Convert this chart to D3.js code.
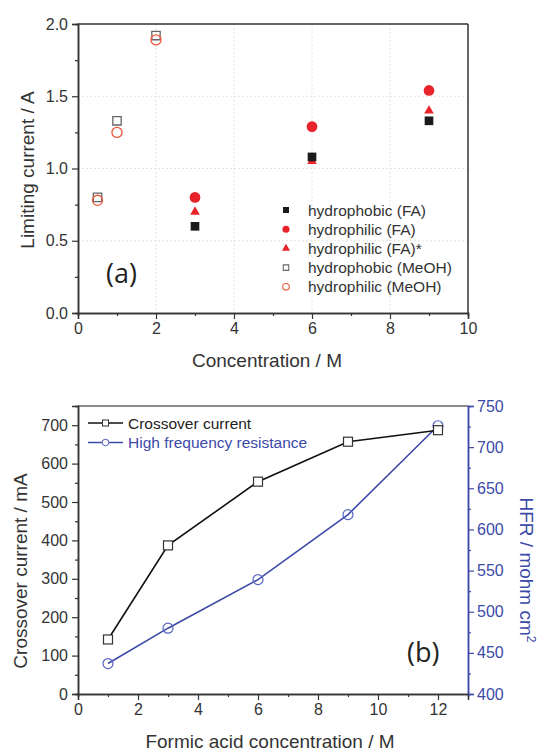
<!DOCTYPE html>
<html>
<head>
<meta charset="utf-8">
<script src="https://cdn.jsdelivr.net/npm/d3@7"></script>
<style>
  body { margin: 0; background: #fff; }
  svg { display: block; font-family: "Liberation Sans", Arial, sans-serif; }
</style>
</head>
<body>
<div id="chart"></div>
<script>
// panel (a) data
var concFA = [3, 6, 9];
var phobicFA = [0.60, 1.08, 1.33];
var philicFA = [0.80, 1.29, 1.54];
var philicFAstar = [0.70, 1.05, 1.40];
var concMeOH = [0.5, 1, 2];
var phobicMeOH = [0.80, 1.33, 1.92];
var philicMeOH = [0.78, 1.25, 1.89];
var legendA = ["hydrophobic (FA)", "hydrophilic (FA)", "hydrophilic (FA)*", "hydrophobic (MeOH)", "hydrophilic (MeOH)"];

// panel (b) data
var concB = [1, 3, 6, 9, 12];
var crossover = [142, 387, 553, 657, 687];
var hfr = [437, 480, 539, 618, 726];
var legendB = ["Crossover current", "High frequency resistance"];

var W = 537, H = 752;
var axisCol = "#333", blue = "#3c4aa8", red = "#e8232a", orange = "#ec5a3c";

var svg = d3.select("#chart").append("svg")
  .attr("width", W).attr("height", H);

function styleAxis(g, col) {
  g.select(".domain").attr("stroke", col).attr("stroke-width", 1.5);
  g.selectAll(".tick line").attr("stroke", col).attr("stroke-width", 1.2);
  g.selectAll(".tick text").attr("fill", col).style("font-size", "16px")
    .style("font-family", "'Liberation Sans', Arial, sans-serif");
}

// ---------------- panel (a) ----------------
var ax = {left: 78, right: 468, top: 24, bottom: 313};
var xA = d3.scaleLinear().domain([0, 10]).range([ax.left, ax.right]);
var yA = d3.scaleLinear().domain([0, 2]).range([ax.bottom, ax.top]);

var gA = svg.append("g");

// faint grid
gA.selectAll(".gx").data([2, 4, 6, 8]).enter().append("line")
  .attr("x1", d => xA(d)).attr("x2", d => xA(d))
  .attr("y1", ax.top).attr("y2", ax.bottom)
  .attr("stroke", "#e4e4e4").attr("stroke-dasharray", "2,2");
gA.selectAll(".gy").data([0.5, 1, 1.5]).enter().append("line")
  .attr("x1", ax.left).attr("x2", ax.right)
  .attr("y1", d => yA(d)).attr("y2", d => yA(d))
  .attr("stroke", "#e4e4e4").attr("stroke-dasharray", "2,2");

// frame top / right
gA.append("line").attr("x1", ax.left).attr("x2", ax.right).attr("y1", ax.top).attr("y2", ax.top)
  .attr("stroke", axisCol).attr("stroke-width", 1.5);
gA.append("line").attr("x1", ax.right).attr("x2", ax.right).attr("y1", ax.top).attr("y2", ax.bottom)
  .attr("stroke", axisCol).attr("stroke-width", 1.5);

// minor ticks
gA.append("g").attr("transform", "translate(0," + ax.bottom + ")")
  .call(d3.axisBottom(xA).tickValues([1, 3, 5, 7, 9]).tickSize(3).tickFormat(""))
  .call(g => styleAxis(g, axisCol));
gA.append("g").attr("transform", "translate(" + ax.left + ",0)")
  .call(d3.axisLeft(yA).tickValues([0.25, 0.75, 1.25, 1.75]).tickSize(3).tickFormat(""))
  .call(g => styleAxis(g, axisCol));
// major
gA.append("g").attr("transform", "translate(0," + ax.bottom + ")")
  .call(d3.axisBottom(xA).tickValues([0, 2, 4, 6, 8, 10]).tickSize(6).tickPadding(4).tickFormat(d3.format("d")))
  .call(g => styleAxis(g, axisCol));
gA.append("g").attr("transform", "translate(" + ax.left + ",0)")
  .call(d3.axisLeft(yA).tickValues([0, 0.5, 1, 1.5, 2]).tickSize(6).tickPadding(4).tickFormat(d3.format(".1f")))
  .call(g => styleAxis(g, axisCol));

gA.append("text").attr("x", 267).attr("y", 367).attr("text-anchor", "middle")
  .attr("fill", axisCol).style("font-size", "19px").text("Concentration / M");
gA.append("text").attr("transform", "translate(34,170) rotate(-90)").attr("text-anchor", "middle")
  .attr("fill", axisCol).style("font-size", "19px").text("Limiting current / A");
gA.append("text").attr("x", 106).attr("y", 283)
  .attr("fill", "#222").style("font-family", "Open Sans, sans-serif").style("font-size", "27px").text("(a)");

var sq = d3.symbol().type(d3.symbolSquare);
var ci = d3.symbol().type(d3.symbolCircle);
var tr = d3.symbol().type(d3.symbolTriangle);

function pts(g, xs, ys, sym, size, fill, stroke) {
  g.selectAll(null).data(xs).enter().append("path")
    .attr("transform", (d, i) => "translate(" + xA(d) + "," + yA(ys[i]) + ")")
    .attr("d", sym.size(size)())
    .attr("fill", fill).attr("stroke", stroke).attr("stroke-width", 1.3);
}
pts(gA, concMeOH, phobicMeOH, sq, 70, "none", "#666");
pts(gA, concMeOH, philicMeOH, ci, 80, "none", orange);
pts(gA, concFA, philicFAstar, tr, 40, red, "none");
pts(gA, concFA, phobicFA, sq, 75, "#1a1a1a", "none");
pts(gA, concFA, philicFA, ci, 90, red, "none");

// legend (a)
var legSyms = [
  {sym: sq, size: 36, fill: "#1a1a1a", stroke: "none"},
  {sym: ci, size: 40, fill: red, stroke: "none"},
  {sym: tr, size: 28, fill: red, stroke: "none"},
  {sym: sq, size: 30, fill: "none", stroke: "#666"},
  {sym: ci, size: 34, fill: "none", stroke: orange}
];
var lgA = gA.append("g");
legendA.forEach(function(t, i) {
  var y = 210 + i * 19.2;
  lgA.append("path").attr("transform", "translate(286," + y + ")")
    .attr("d", legSyms[i].sym.size(legSyms[i].size)())
    .attr("fill", legSyms[i].fill).attr("stroke", legSyms[i].stroke).attr("stroke-width", 1.1);
  lgA.append("text").attr("x", 308).attr("y", y + 5.5)
    .attr("fill", axisCol).style("font-size", "15.5px").text(t);
});

// ---------------- panel (b) ----------------
var bx = {left: 78, right: 468, top: 406, bottom: 694};
var xB = d3.scaleLinear().domain([0, 13]).range([bx.left, bx.right]);
var yB = d3.scaleLinear().domain([0, 750]).range([bx.bottom, bx.top]);
var yR = d3.scaleLinear().domain([400, 750]).range([bx.bottom, bx.top]);

var gB = svg.append("g");
gB.append("line").attr("x1", bx.left).attr("x2", bx.right).attr("y1", bx.top).attr("y2", bx.top)
  .attr("stroke", "#666").attr("stroke-width", 1.5);

gB.append("g").attr("transform", "translate(0," + bx.bottom + ")")
  .call(d3.axisBottom(xB).tickValues([1, 3, 5, 7, 9, 11]).tickSize(3).tickFormat(""))
  .call(g => styleAxis(g, axisCol));
gB.append("g").attr("transform", "translate(" + bx.left + ",0)")
  .call(d3.axisLeft(yB).tickValues(d3.range(50, 750, 100)).tickSize(3).tickFormat(""))
  .call(g => styleAxis(g, axisCol));
gB.append("g").attr("transform", "translate(" + bx.right + ",0)")
  .call(d3.axisRight(yR).tickValues(d3.range(425, 750, 50)).tickSize(3).tickFormat(""))
  .call(g => styleAxis(g, blue));

gB.append("g").attr("transform", "translate(0," + bx.bottom + ")")
  .call(d3.axisBottom(xB).tickValues([0, 2, 4, 6, 8, 10, 12]).tickSize(6).tickPadding(4).tickFormat(d3.format("d")))
  .call(g => styleAxis(g, axisCol));
gB.append("g").attr("transform", "translate(" + bx.left + ",0)")
  .call(d3.axisLeft(yB).tickValues(d3.range(0, 701, 100)).tickSize(6).tickPadding(4).tickFormat(d3.format("d")))
  .call(g => styleAxis(g, axisCol));
gB.append("g").attr("transform", "translate(" + bx.right + ",0)")
  .call(d3.axisRight(yR).tickValues(d3.range(400, 751, 50)).tickSize(6).tickPadding(3).tickFormat(d3.format("d")))
  .call(g => styleAxis(g, blue));

gB.append("text").attr("x", 270).attr("y", 748).attr("text-anchor", "middle")
  .attr("fill", axisCol).style("font-size", "19px").text("Formic acid concentration / M");
gB.append("text").attr("transform", "translate(27,571) rotate(-90)").attr("text-anchor", "middle")
  .attr("fill", axisCol).style("font-size", "19px").text("Crossover current / mA");
var rl = gB.append("text").attr("transform", "translate(520,570) rotate(90)").attr("text-anchor", "middle")
  .attr("fill", blue).style("font-size", "19px");
rl.append("tspan").text("HFR / mohm cm");
rl.append("tspan").attr("dy", -7).style("font-size", "12px").text("2");
gB.append("text").attr("x", 407).attr("y", 662)
  .attr("fill", "#222").style("font-family", "Open Sans, sans-serif").style("font-size", "27px").text("(b)");

var lineCC = d3.line().x((d, i) => xB(concB[i])).y(d => yB(d));
var lineHFR = d3.line().x((d, i) => xB(concB[i])).y(d => yR(d));

gB.append("path").datum(hfr).attr("d", lineHFR).attr("fill", "none").attr("stroke", blue).attr("stroke-width", 1.6);
gB.selectAll(".hc").data(hfr).enter().append("circle")
  .attr("cx", (d, i) => xB(concB[i])).attr("cy", d => yR(d)).attr("r", 5)
  .attr("fill", "none").attr("stroke", "#5562c0").attr("stroke-width", 1.2);

gB.append("path").datum(crossover).attr("d", lineCC).attr("fill", "none").attr("stroke", "#111").attr("stroke-width", 1.6);
gB.selectAll(".cs").data(crossover).enter().append("rect")
  .attr("x", (d, i) => xB(concB[i]) - 4.5).attr("y", d => yB(d) - 4.5)
  .attr("width", 9).attr("height", 9)
  .attr("fill", "#fff").attr("stroke", "#333").attr("stroke-width", 1.2);

// legend (b)
var lgB = gB.append("g");
[{col: "#111", mk: "#333", sq: true}, {col: blue, mk: "#5562c0", sq: false}].forEach(function(s, i) {
  var y = 423 + i * 19.5;
  lgB.append("line").attr("x1", 88).attr("x2", 123).attr("y1", y).attr("y2", y)
    .attr("stroke", s.col).attr("stroke-width", 1.4);
  if (s.sq) {
    lgB.append("rect").attr("x", 102.5).attr("y", y - 3).attr("width", 6).attr("height", 6)
      .attr("fill", "#fff").attr("stroke", s.mk).attr("stroke-width", 1);
  } else {
    lgB.append("circle").attr("cx", 105.5).attr("cy", y).attr("r", 3.3)
      .attr("fill", "#fff").attr("stroke", s.mk).attr("stroke-width", 1);
  }
  lgB.append("text").attr("x", 128).attr("y", y + 5.5)
    .attr("fill", i === 0 ? "#222" : blue).style("font-size", "15.5px").text(legendB[i]);
});
</script>
</body>
</html>
